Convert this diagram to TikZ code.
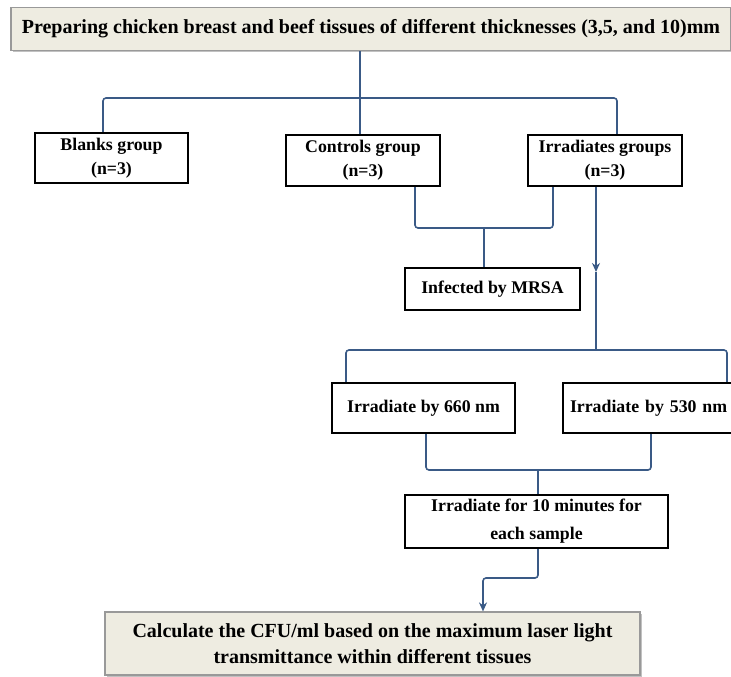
\documentclass[tikz,border=0pt]{standalone}
\usepackage{fontspec}
\setmainfont{Liberation Serif}
\usetikzlibrary{arrows.meta,shadows}
\definecolor{conn}{HTML}{3A5A86}
\definecolor{beige}{HTML}{EEECE1}
\tikzset{
  whitebox/.style={draw=black, line width=2.2pt, fill=white, align=center, inner sep=0pt, font=\bfseries\fontsize{17.8}{24}\selectfont},
  beigebox/.style={draw=gray!80, line width=1.2pt, fill=beige, align=center, inner sep=0pt,
     drop shadow={shadow xshift=1.5pt, shadow yshift=-2pt, fill=gray!60, opacity=0.8}},
  link/.style={draw=conn, line width=1.6pt, rounded corners=3pt},
  arr/.style={-{Stealth[length=9pt,width=8pt]}}
}
\begin{document}
\begin{tikzpicture}[x=1pt,y=-1pt]
\useasboundingbox (0,0) rectangle (731,677);
% boxes
\node[beigebox, minimum width=720pt, minimum height=43pt, font=\bfseries\fontsize{20}{24}\selectfont] (top) at (371,29) {Preparing chicken breast and beef tissues of different thicknesses (3,5, and 10)mm};
\node[whitebox, minimum width=153pt, minimum height=50pt] (blanks) at (111.5,158) {Blanks group\\(n=3)};
\node[whitebox, minimum width=154pt, minimum height=51pt] (controls) at (363,160.5) {Controls group\\(n=3)};
\node[whitebox, minimum width=154pt, minimum height=51pt] (irr) at (605,160.5) {Irradiates groups\\(n=3)};
\node[whitebox, minimum width=175pt, minimum height=42pt] (mrsa) at (492.5,289) {Infected by MRSA};
\node[whitebox, minimum width=183pt, minimum height=50pt] (r660) at (423.5,408) {Irradiate by 660 nm};
\node[whitebox, minimum width=176pt, minimum height=50pt, text width=170pt, align=left] (r530) at (651,408) {\hspace*{4pt}Irradiate by 530 nm};
\node[whitebox, minimum width=263pt, minimum height=53pt, font=\bfseries\fontsize{17.8}{27}\selectfont] (tenmin) at (536.5,521.5) {\raisebox{-3pt}{Irradiate for 10 minutes for}\\\raisebox{-4pt}{each sample}};
\node[beigebox, minimum width=535pt, minimum height=63pt, font=\bfseries\fontsize{20}{26}\selectfont] (final) at (372.5,643.5) {Calculate the CFU/ml based on the maximum laser light\\transmittance within different tissues};
% coordinates
\coordinate (j1) at (360,98);
\coordinate (j2) at (484,228);
\coordinate (m1) at (596,272);
\coordinate (j3) at (596,350);
\coordinate (j4) at (538,470);
\coordinate (j5) at (538,578);
% connectors
\draw[link] (top.south -| j1) -- (j1);
\draw[link] (blanks.north -| 103,0) |- (j1) -| (irr.north -| 617,0);
\draw[link] (j1) -- (controls.north -| j1);
\draw[link] (controls.south -| 415,0) |- (j2) -| (irr.south -| 553,0);
\draw[link] (j2) -- (mrsa.north -| j2);
\draw[link,arr] (irr.south -| m1) -- (m1);
\draw[link] (m1) -- (j3);
\draw[link] (r660.north -| 346,0) |- (j3) -| (r530.north -| 727,0);
\draw[link] (r660.south -| 426,0) |- (j4) -| (r530.south -| 651,0);
\draw[link] (j4) -- (tenmin.north -| j4);
\draw[link,arr] (tenmin.south -| j5) -- (j5) -| (final.north -| 483,0);
\end{tikzpicture}
\end{document}
